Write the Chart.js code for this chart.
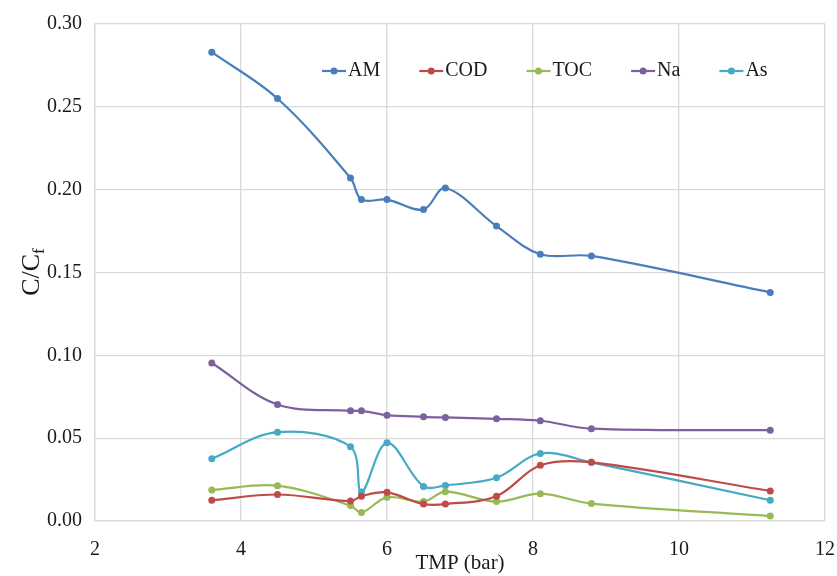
<!DOCTYPE html>
<html>
<head>
<meta charset="utf-8">
<script src="https://cdn.jsdelivr.net/npm/chart.js@4.4.1/dist/chart.umd.min.js"></script>
<style>
  body { margin: 0; background: #fff; }
  #wrap { width: 837px; height: 576px; }
</style>
</head>
<body>
<div id="wrap"><canvas id="tmpChart"></canvas></div>
<script>
var tmp = [3.6, 4.5, 5.5, 5.65, 6.0, 6.5, 6.8, 7.5, 8.1, 8.8, 11.25];
var am  = [0.283, 0.255, 0.207, 0.194, 0.194, 0.188, 0.201, 0.178, 0.161, 0.160, 0.138];
var cod = [0.0125, 0.0160, 0.0120, 0.0150, 0.0173, 0.0102, 0.0102, 0.0150, 0.0336, 0.0354, 0.0181];
var toc = [0.0187, 0.0213, 0.0093, 0.0051, 0.0143, 0.0117, 0.0177, 0.0117, 0.0165, 0.0105, 0.0030];
var na  = [0.0954, 0.0703, 0.0665, 0.0665, 0.0639, 0.0629, 0.0625, 0.0617, 0.0605, 0.0557, 0.0548];
var as  = [0.0376, 0.0536, 0.0448, 0.0175, 0.0472, 0.0209, 0.0215, 0.0261, 0.0408, 0.0354, 0.0125];

var names = ['AM', 'COD', 'TOC', 'Na', 'As'];
var colors = ['#4a7ebb', '#be4b48', '#98b954', '#7d60a0', '#46aac5'];
var series = [am, cod, toc, na, as];

function toPoints(vals) {
    var pts = [];
    for (var i = 0; i < tmp.length; i++) pts.push({x: tmp[i], y: vals[i]});
    return pts;
}

var datasets = [];
for (var k = 0; k < series.length; k++) {
    datasets.push({
        label: names[k],
        data: toPoints(series[k]),
        borderColor: colors[k],
        backgroundColor: colors[k],
        borderWidth: 2.2,
        pointRadius: 3.5,
        pointBorderWidth: 0,
        tension: 0.35
    });
}

var serif = '"Liberation Serif", "Times New Roman", serif';

// legend inside the plot + y title with subscript
var extras = {
    id: 'extras',
    afterDraw: function(chart) {
        var c = chart.ctx;
        c.save();
        c.font = '20px ' + serif;
        c.textBaseline = 'middle';
        var x = 322, y = 71;
        chart.data.datasets.forEach(function(ds) {
            c.strokeStyle = ds.borderColor;
            c.lineWidth = 2.2;
            c.beginPath();
            c.moveTo(x, y);
            c.lineTo(x + 24, y);
            c.stroke();
            c.fillStyle = ds.borderColor;
            c.beginPath();
            c.arc(x + 12, y, 3.5, 0, Math.PI * 2);
            c.fill();
            c.fillStyle = '#1a1a1a';
            c.textAlign = 'left';
            c.fillText(ds.label, x + 26, y);
            x += 26 + c.measureText(ds.label).width + 39;
        });

        // y axis title C/Cf
        c.translate(30, 272);
        c.rotate(-Math.PI / 2);
        c.fillStyle = '#1a1a1a';
        c.textBaseline = 'alphabetic';
        var main = 'C/C';
        c.font = '26px ' + serif;
        var w1 = c.measureText(main).width;
        c.font = '17px ' + serif;
        var w2 = c.measureText('f').width;
        var sx = -(w1 + w2) / 2;
        c.font = '26px ' + serif;
        c.fillText(main, sx, 9);
        c.font = '17px ' + serif;
        c.fillText('f', sx + w1, 14);
        c.restore();
    }
};

var ctx = document.getElementById('tmpChart').getContext('2d');
var chart = new Chart(ctx, {
    type: 'line',
    data: { datasets: datasets },
    plugins: [extras],
    options: {
        responsive: true,
        maintainAspectRatio: false,
        animation: false,
        layout: { padding: { top: 24, right: 12, left: 0, bottom: 0 } },
        plugins: {
            legend: { display: false },
            tooltip: { enabled: false }
        },
        scales: {
            x: {
                type: 'linear',
                min: 2,
                max: 12,
                ticks: {
                    stepSize: 2,
                    padding: 17,
                    maxRotation: 0,
                    color: '#1a1a1a',
                    font: { family: serif, size: 20 }
                },
                grid: { color: '#d9d9d9', lineWidth: 1.3, drawTicks: false },
                border: { color: '#d9d9d9', width: 1.3 },
                title: {
                    display: true,
                    text: 'TMP (bar)',
                    color: '#1a1a1a',
                    font: { family: serif, size: 21 },
                    padding: { top: 0, bottom: 0 }
                },
                afterFit: function(s) {
                    s.height = 55;
                    s.paddingLeft = 0;
                    s.paddingRight = 0;
                }
            },
            y: {
                min: 0,
                max: 0.30,
                ticks: {
                    stepSize: 0.05,
                    padding: 13,
                    color: '#1a1a1a',
                    font: { family: serif, size: 20 },
                    callback: function(v) { return v.toFixed(2); }
                },
                grid: { color: '#d9d9d9', lineWidth: 1.3, drawTicks: false },
                border: { color: '#d9d9d9', width: 1.3 },
                afterFit: function(s) {
                    s.width = 95;
                    s.paddingTop = 0;
                    s.paddingBottom = 0;
                }
            }
        }
    }
});
</script>
</body>
</html>
